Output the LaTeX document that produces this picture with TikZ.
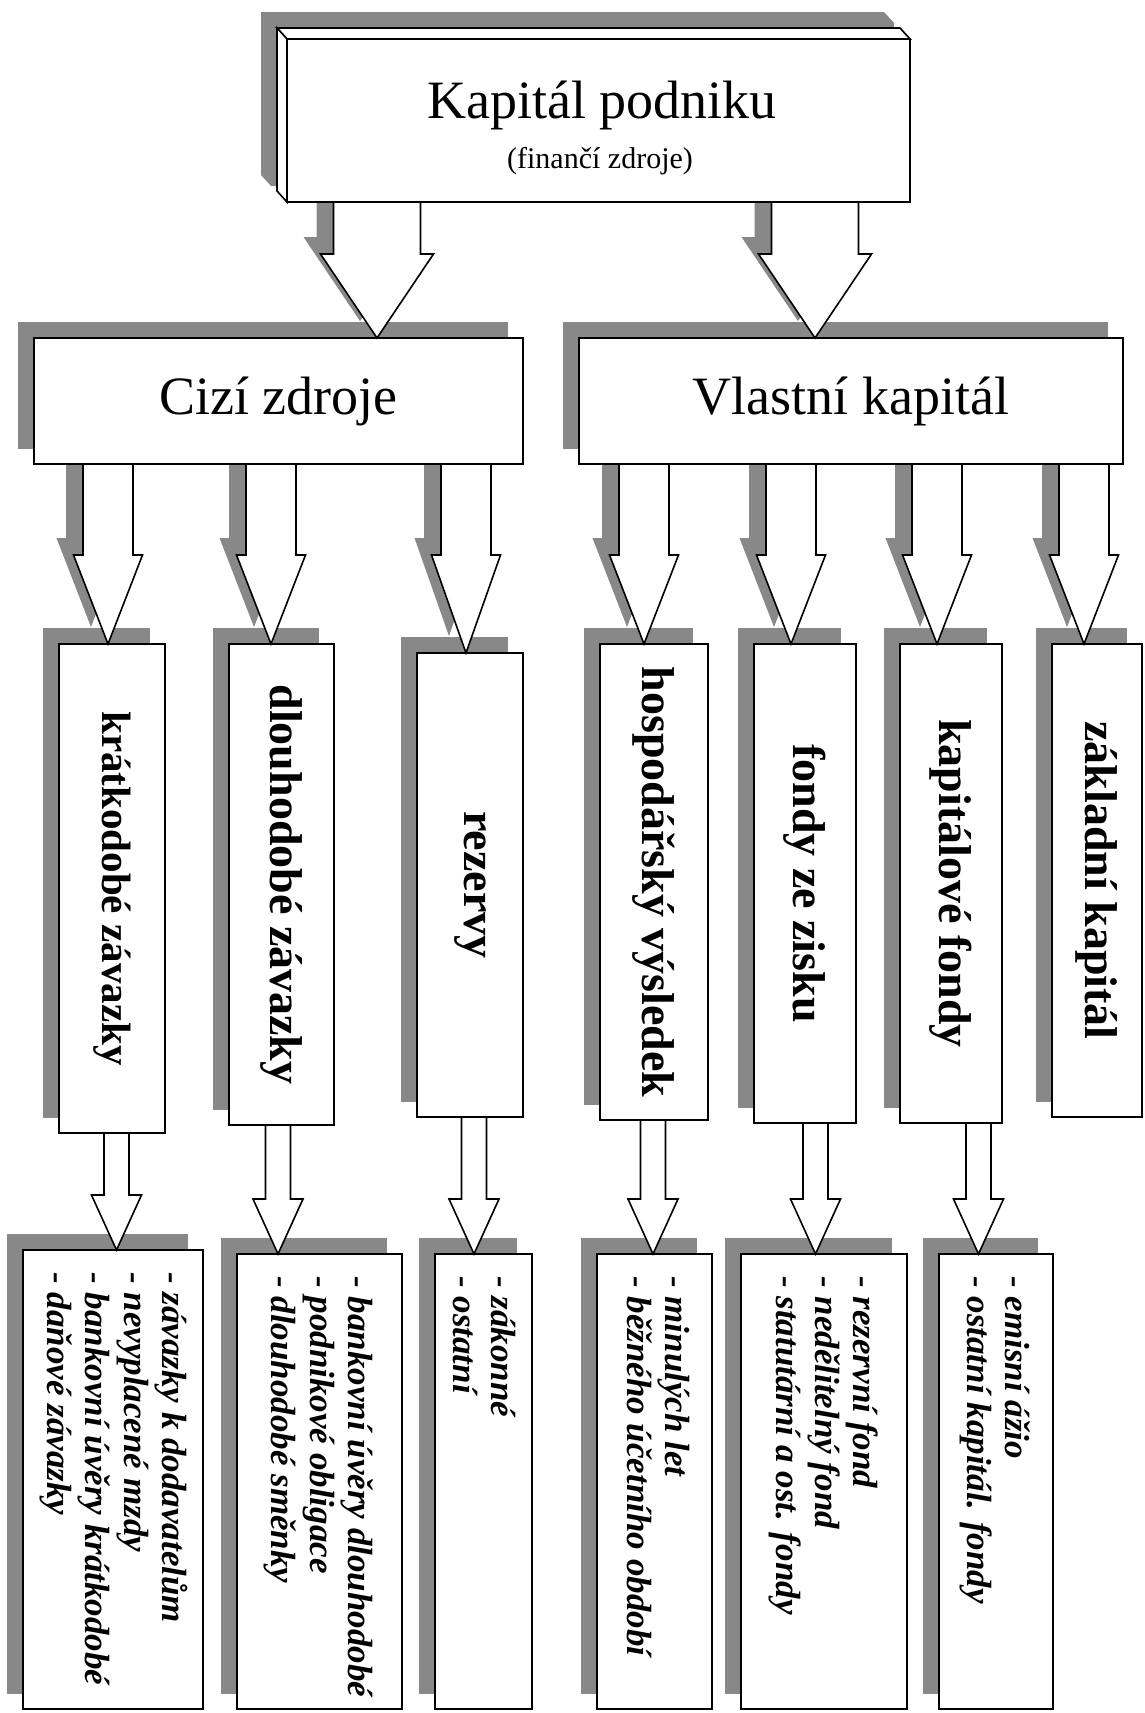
\documentclass[tikz,border=0pt]{standalone}
\usepackage{fontspec}
\setmainfont{Liberation Serif}
\usepackage{graphicx}
\usetikzlibrary{calc,shadows}
\definecolor{shadowgray}{RGB}{136,136,136}
\pgfdeclarelayer{background}
\pgfsetlayers{background,main}
\tikzset{
  blockline/.style={draw=black,line width=1.6pt,fill=white},
  framebox/.style={blockline,rectangle,anchor=north west,inner sep=0pt,outer sep=0pt,
    general shadow={fill=shadowgray,draw=shadowgray,line width=0.1pt,shadow xshift=-16pt,shadow yshift=16pt}},
  headfont/.style={font=\fontsize{54}{60}\selectfont},
  partfont/.style={font=\bfseries\fontsize{46}{50}\selectfont},
  itemtext/.style={font=\bfseries\itshape\fontsize{35}{38.5}\selectfont,
    inner sep=0pt,anchor=north west,rotate=-90}
}
% block arrow outline, moved by #1 (0 = the arrow, -17 = its shadow)
\newcommand{\arrowshape}[4]{($(top)+({-#2+(#1)},0)$) -- ($(tip)+({-#2+(#1)},{-#4+(#1)})$)
  -- ($(tip)+({-#3+(#1)},{-#4+(#1)})$) -- ($(tip)+(#1,#1)$)
  -- ($(tip)+({#3+(#1)},{-#4+(#1)})$) -- ($(tip)+({#2+(#1)},{-#4+(#1)})$)
  -- ($(top)+({#2+(#1)},0)$) -- cycle}
\newcommand{\shadearrow}[6]{%
  \coordinate (tip) at ($(#2.north)+(#3,0)$);
  \coordinate (top) at (tip |- #1.south);
  \begin{pgfonlayer}{background}
    \fill[shadowgray] \arrowshape{-17}{#4}{#5}{#6};
  \end{pgfonlayer}
  \draw[blockline] \arrowshape{0}{#4}{#5}{#6};
}
\newcommand{\plainarrow}[6]{%
  \coordinate (tip) at ($(#2.north)+(#3,0)$);
  \coordinate (top) at (tip |- #1.south);
  \draw[blockline] \arrowshape{0}{#4}{#5}{#6};
}

\begin{document}
\begin{tikzpicture}[x=1pt,y=-1pt]
\useasboundingbox (0,0) rectangle (1144,1713);
\begin{pgfonlayer}{background}
  \fill[white] (0,0) rectangle (1144,1713);
\end{pgfonlayer}
% top box with raised edge
\node[blockline,anchor=north west,inner sep=0pt,outer sep=0pt,
  minimum width=623pt,minimum height=163pt] (kap) at (287,39) {};
\node[headfont,anchor=base] (kaptitle) at ($(kap.north west)+(315,79)$) {Kapitál podniku};
\node[font=\fontsize{30}{34}\selectfont,anchor=base] (kapnote)
  at ($(kap.north west)+(313,129)$) {(finančí zdroje)};
\begin{pgfonlayer}{background}
  \fill[shadowgray] ($(kap.north west)+(-26,-27)$) -- ($(kap.north east)+(-26,-27)$)
    -- ($(kap.north east)+(-16,-16)$) -- ($(kap.south east)+(-16,-16)$)
    -- ($(kap.south west)+(-16,-16)$) -- ($(kap.south west)+(-26,-27)$) -- cycle;
  \draw[blockline] ($(kap.north west)+(-10,-11)$) -- ($(kap.north east)+(-10,-11)$)
    -- (kap.north east) -- (kap.north west) -- cycle;
  \draw[blockline] ($(kap.north west)+(-10,-11)$) -- (kap.north west)
    -- (kap.south west) -- ($(kap.south west)+(-10,-11)$) -- cycle;
\end{pgfonlayer}
% second level
\node[framebox,headfont,minimum width=489pt,minimum height=126pt] (cizi) at (34,338) {Cizí zdroje};
\node[framebox,headfont,minimum width=544pt,minimum height=126pt] (vlastni) at (579,338) {Vlastní kapitál};
% third level
\node[framebox,partfont,font=\bfseries\fontsize{41}{45}\selectfont,
  minimum width=106pt,minimum height=489pt] (kratko) at (59,644) {\rotatebox{-90}{krátkodobé závazky}};
\node[framebox,partfont,minimum width=105pt,minimum height=481pt] (dlouho) at (229,644) {\rotatebox{-90}{dlouhodobé závazky}};
\node[framebox,partfont,minimum width=106pt,minimum height=464pt] (rezervy) at (417,653) {\rotatebox{-90}{rezervy}};
\node[framebox,partfont,minimum width=108pt,minimum height=476pt] (hosp) at (600,644) {\rotatebox{-90}{hospodářský výsledek}};
\node[framebox,partfont,minimum width=102pt,minimum height=479pt] (fzisk) at (754,644) {\rotatebox{-90}{fondy ze zisku}};
\node[framebox,partfont,minimum width=102pt,minimum height=479pt] (kapfondy) at (900,644) {\rotatebox{-90}{kapitálové fondy}};
\node[framebox,partfont,minimum width=90pt,minimum height=473pt] (zaklad) at (1052,644) {\rotatebox{-90}{základní kapitál}};
% item lists
\node[framebox,minimum width=180pt,minimum height=459pt] (zav1) at (23,1250) {};
\node[framebox,minimum width=165pt,minimum height=455pt] (zav2) at (237,1254) {};
\node[framebox,minimum width=97pt,minimum height=455pt] (rez2) at (435,1254) {};
\node[framebox,minimum width=115pt,minimum height=455pt] (hv2) at (597,1254) {};
\node[framebox,minimum width=166pt,minimum height=455pt] (fz2) at (741,1254) {};
\node[framebox,minimum width=114pt,minimum height=455pt] (kf2) at (939,1254) {};
\node[itemtext] (zav1t) at ($(zav1.north east)+(-13,22)$) {\begin{tabular}[t]{@{}l@{}}- závazky k dodavatelům\\- nevyplacené mzdy\\- bankovní úvěry krátkodobé\\- daňové závazky\end{tabular}};
\node[itemtext] (zav2t) at ($(zav2.north east)+(-26,22)$) {\begin{tabular}[t]{@{}l@{}}- bankovní úvěry dlouhodobé\\- podnikové obligace\\- dlouhodobé směnky\end{tabular}};
\node[itemtext] (rez2t) at ($(rez2.north east)+(-13,22)$) {\begin{tabular}[t]{@{}l@{}}- zákonné\\- ostatní\end{tabular}};
\node[itemtext] (hv2t) at ($(hv2.north east)+(-19,22)$) {\begin{tabular}[t]{@{}l@{}}- minulých let\\- běžného účetního období\end{tabular}};
\node[itemtext] (fz2t) at ($(fz2.north east)+(-26,22)$) {\begin{tabular}[t]{@{}l@{}}- rezervní fond\\- nedělitelný fond\\- statutární a ost. fondy\end{tabular}};
\node[itemtext] (kf2t) at ($(kf2.north east)+(-20,22)$) {\begin{tabular}[t]{@{}l@{}}- emisní ážio\\- ostatní kapitál. fondy\end{tabular}};
% arrows
\shadearrow{kap}{cizi}{98.5}{43.5}{56.5}{84}
\shadearrow{kap}{vlastni}{-36}{43.5}{56.5}{84}
\foreach \src/\dst/\dx/\hl in {cizi/kratko/-4/89, cizi/dlouho/-10.5/89, cizi/rezervy/-4/98,
  vlastni/hosp/-10/89, vlastni/fzisk/-14/89, vlastni/kapfondy/-14/89, vlastni/zaklad/-13/89}
  \shadearrow{\src}{\dst}{\dx}{25}{34.5}{\hl};
\foreach \src/\dst/\dx in {kratko/zav1/3.5, dlouho/zav2/-41.5, rezervy/rez2/-9.5,
  hosp/hv2/-1.5, fzisk/fz2/-8.5, kapfondy/kf2/-17.5}
  \plainarrow{\src}{\dst}{\dx}{12.5}{25}{55};
\end{tikzpicture}
\end{document}
